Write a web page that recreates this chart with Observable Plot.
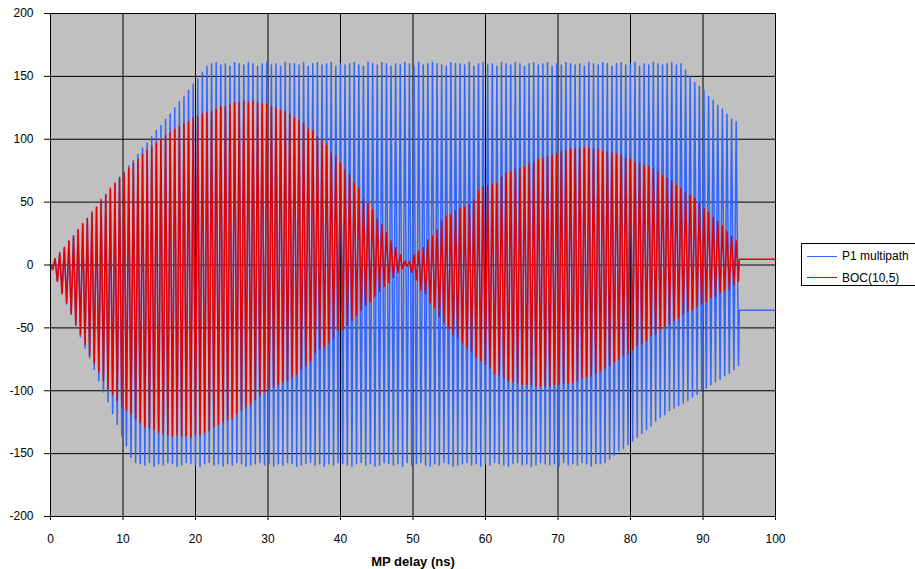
<!DOCTYPE html>
<html><head><meta charset="utf-8">
<script src="https://cdn.jsdelivr.net/npm/d3@7"></script>
<script src="https://cdn.jsdelivr.net/npm/@observablehq/plot@0.6"></script>
<style>
body{margin:0;background:#fff;font-family:"Liberation Sans",Arial,sans-serif;}
#wrap{position:relative;width:915px;height:569px;overflow:hidden;}
#legend{position:absolute;left:801px;top:243px;width:130px;height:41px;border:1px solid #000;background:#fff;font-size:12px;color:#000;}
.row{position:absolute;left:5px;height:14px;display:flex;align-items:center;white-space:nowrap;}
.sw{width:30px;height:0;border-top:1.5px solid;margin-right:5px;}
svg [aria-label="x-axis label"] text{font-weight:bold;font-size:13px;}
</style></head>
<body>
<div id="wrap"></div>
<script>
// carrier cycle spacing of the oscillation (ns)
const cyclePeriod = 0.63475;
const xTicks = [0,10,20,30,40,50,60,70,80,90,100];
const yTicks = [-200,-150,-100,-50,0,50,100,150,200];
const seriesNames = ["P1 multipath","BOC(10,5)"];

// P1 multipath: positive and negative peak of every carrier cycle
const p1Upper = [0,5,9,14,19,23,28,32,37,42,46,51,56,60,65,70,74,79,83,88,93,97,102,107,111,116,120,125,130,134,139,144,148,153,158,
160,161,159,160,158,161,160,159,161,160,
158,160,161,159,160,158,161,160,160,159,
161,158,160,161,159,160,161,158,160,159,
160,161,159,158,161,160,159,161,160,158,
160,159,161,160,158,161,159,160,161,160,
159,158,161,160,160,159,161,158,160,161,
159,160,158,161,160,159,161,160,158,160,
161,159,160,161,158,160,159,161,160,159,
160,158,161,160,159,161,160,158,160,161,
159,160,161,158,160,159,161,160,159,160,
161,159,160,
155,150,145,142,139,134,131,127,124,120,116,114];
const p1Lower = [-4,-13,-22,-31,-39,-48,-57,-66,-74,-83,-92,-101,-109,-118,-127,-136,-144,-153,-157,
-158,-159,-157,-160,-158,-159,-157,-158,-160,-159,
-157,-158,-159,-160,-158,-157,-159,-158,-160,-158,
-159,-157,-158,-160,-159,-158,-157,-159,-158,-160,
-158,-159,-157,-158,-160,-159,-158,-157,-159,-158,
-160,-158,-159,-157,-158,-159,-160,-158,-157,-159,
-158,-160,-159,-157,-158,-159,-158,-160,-157,-159,
-158,-157,-159,-160,-158,-159,-157,-158,-160,-159,
-158,-157,-159,-158,-160,-158,-159,-157,-158,-159,
-160,-158,-157,-159,-158,-160,-159,-157,-158,-159,
-158,-160,-157,-159,-158,-159,-157,-158,-160,-158,
-158,
-157,-154,-151,-148,-146,-143,-140,-137,-134,-131,-128,-124,-121,-119,-116,-114,-112,-110,-108,-105,-103,-100,-98,-95,-93,-91,-88,-86,-83,-80];

// BOC(10,5): positive and negative peak of every carrier cycle
const bocUpper = [0,5,10,14,19,23,28,33,37,42,
46,52,56,61,65,69,73,77,81,84,
88,91,94,97,100,103,105,108,110,112,
114,117,118,120,121,122,124,126,126,127,
129,129,130,129,130,129,128,128,126,125,
123,122,120,117,115,113,108,107,102,99,
95,89,86,81,76,72,65,61,52,49,
44,37,32,26,19,14,8,3,3,8,
11,14,20,23,28,35,39,40,43,45,
46,48,52,59,62,63,64,65,70,73,
74,76,77,78,81,82,84,85,86,87,
88,90,91,92,92,93,93,93,92,92,
90,90,89,88,87,85,84,82,81,79,
78,76,74,71,69,67,63,61,58,55,
53,49,45,42,38,35,31,27,23,19];
const bocLower = [-3,-13,-23,-30,-39,-48,-55,-63,-72,-78,
-85,-92,-99,-103,-108,-113,-115,-118,-122,-125,
-129,-130,-131,-133,-134,-135,-136,-135,-136,-136,
-137,-135,-135,-133,-132,-129,-127,-125,-123,-122,
-118,-115,-113,-110,-107,-104,-101,-99,-97,-95,
-93,-92,-89,-87,-83,-80,-76,-70,-67,-65,
-62,-58,-52,-51,-48,-44,-40,-36,-32,-29,
-25,-21,-17,-14,-10,-6,-3,-1,-6,-12,
-20,-23,-30,-34,-41,-46,-50,-55,-58,-62,
-66,-69,-73,-76,-79,-82,-86,-87,-90,-92,
-93,-94,-95,-95,-95,-96,-96,-96,-96,-95,
-95,-94,-94,-93,-92,-90,-89,-88,-86,-84,
-82,-80,-77,-75,-72,-70,-67,-64,-63,-60,
-56,-55,-51,-49,-47,-44,-42,-39,-37,-35,
-33,-31,-29,-26,-25,-22,-20,-19,-16,-13];

// flat tail after the oscillation ends
const tailDelay = [95, 100];
const p1Tail = [-36, -36];
const bocTail = [4.5, 4.5];

const colors = ["#3366ff", "#e80000"];

function buildSeries(upper, lower, tail) {
  const pts = [];
  upper.forEach((u, k) => {
    pts.push({x: k * cyclePeriod, y: u});
    pts.push({x: k * cyclePeriod + cyclePeriod / 2, y: lower[k]});
  });
  tailDelay.forEach((x, i) => pts.push({x, y: tail[i]}));
  return pts;
}
const p1 = buildSeries(p1Upper, p1Lower, p1Tail);
const boc = buildSeries(bocUpper, bocLower, bocTail);

const chart = Plot.plot({
  width: 915, height: 569,
  marginLeft: 50, marginRight: 140, marginTop: 13, marginBottom: 53,
  style: {fontFamily: '"Liberation Sans", Arial, sans-serif', fontSize: "12px", color: "#000", background: "transparent"},
  x: {domain: [0, 100]},
  y: {domain: [-200, 200]},
  marks: [
    Plot.frame({fill: "#c0c0c0"}),
    Plot.gridX(xTicks, {stroke: "#000", strokeOpacity: 1}),
    Plot.gridY(yTicks, {stroke: "#000", strokeOpacity: 1}),
    Plot.line(p1, {x: "x", y: "y", stroke: colors[0], strokeWidth: 1.5}),
    Plot.line(boc, {x: "x", y: "y", stroke: colors[1], strokeWidth: 1.5}),
    Plot.frame({stroke: "#000"}),
    Plot.axisX(xTicks, {tickSize: 4, tickPadding: 14, label: "MP delay (ns)", labelAnchor: "center", labelArrow: "none", labelOffset: 49}),
    Plot.axisY(yTicks, {tickSize: 6, tickPadding: 11, tickFormat: d => String(d), label: null})
  ]
});
const wrap = document.getElementById("wrap");
wrap.appendChild(chart);

const legend = document.createElement("div");
legend.id = "legend";
seriesNames.forEach((name, i) => {
  const row = document.createElement("div");
  row.className = "row";
  row.style.top = (5 + i * 21.7) + "px";
  row.innerHTML = `<span class="sw" style="border-color:${colors[i]}"></span><span>${name}</span>`;
  legend.appendChild(row);
});
wrap.appendChild(legend);
</script>
</body></html>
